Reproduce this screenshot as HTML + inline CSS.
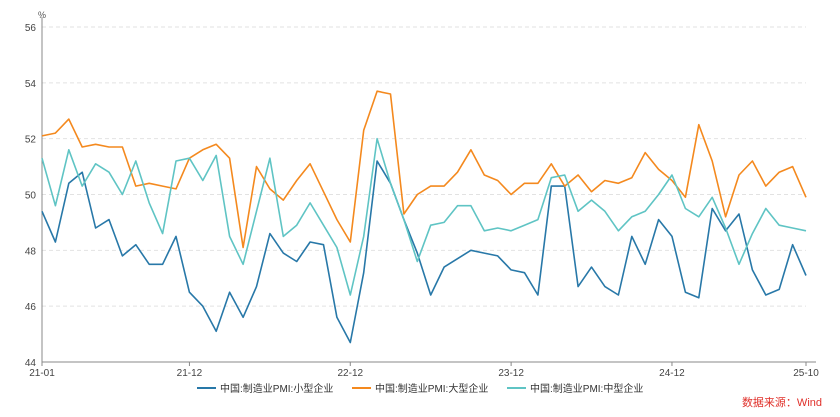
<!DOCTYPE html>
<html><head><meta charset="utf-8"><style>
body{margin:0;background:#fff;}
svg{display:block;font-family:"Liberation Sans","Noto Sans CJK SC",sans-serif;}
</style></head><body>
<svg id="chart" width="840" height="417">
<g id="grid"></g><g id="axes"></g><g id="series"></g>
<g font-size="10" fill="#333">
<line x1="197" y1="388" x2="216" y2="388" stroke="#2878a8" stroke-width="2"/><text x="220" y="392">中国:制造业PMI:小型企业</text>
<line x1="352" y1="388" x2="371" y2="388" stroke="#f4891e" stroke-width="2"/><text x="375" y="392">中国:制造业PMI:大型企业</text>
<line x1="507" y1="388" x2="526" y2="388" stroke="#5fc4c4" stroke-width="2"/><text x="530" y="392">中国:制造业PMI:中型企业</text>
</g>
<text x="822" y="406" text-anchor="end" font-size="11" fill="#e0302a">数据来源：Wind</text>
<text x="38" y="18" font-size="9" fill="#555">%</text>
</svg>
<script>
const small=[49.4,48.3,50.4,50.8,48.8,49.1,47.8,48.2,47.5,47.5,48.5,46.5,46.0,45.1,46.5,45.6,46.7,48.6,47.9,47.6,48.3,48.2,45.6,44.7,47.2,51.2,50.4,49.1,47.9,46.4,47.4,47.7,48.0,47.9,47.8,47.3,47.2,46.4,50.3,50.3,46.7,47.4,46.7,46.4,48.5,47.5,49.1,48.5,46.5,46.3,49.5,48.7,49.3,47.3,46.4,46.6,48.2,47.1];
const large=[52.1,52.2,52.7,51.7,51.8,51.7,51.7,50.3,50.4,50.3,50.2,51.3,51.6,51.8,51.3,48.1,51.0,50.2,49.8,50.5,51.1,50.1,49.1,48.3,52.3,53.7,53.6,49.3,50.0,50.3,50.3,50.8,51.6,50.7,50.5,50.0,50.4,50.4,51.1,50.3,50.7,50.1,50.5,50.4,50.6,51.5,50.9,50.5,49.9,52.5,51.2,49.2,50.7,51.2,50.3,50.8,51.0,49.9];
const medium=[51.3,49.6,51.6,50.3,51.1,50.8,50.0,51.2,49.7,48.6,51.2,51.3,50.5,51.4,48.5,47.5,49.4,51.3,48.5,48.9,49.7,48.9,48.1,46.4,48.5,52.0,50.4,49.1,47.6,48.9,49.0,49.6,49.6,48.7,48.8,48.7,48.9,49.1,50.6,50.7,49.4,49.8,49.4,48.7,49.2,49.4,50.0,50.7,49.5,49.2,49.9,48.8,47.5,48.6,49.5,48.9,48.8,48.7];
const yTicks=[44,46,48,50,52,54,56];
const xTickIdx=[0,11,23,35,47,57];
const xTickLabels=["21-01","21-12","22-12","23-12","24-12","25-10"];
const NS="http://www.w3.org/2000/svg";
const L=42,R=806,T=27,B=362;
const n=small.length;
const xs=i=>L+i*(R-L)/(n-1);
const ys=v=>B-(v-44)/(56-44)*(B-T);
function mk(tag,attrs,parent){const e=document.createElementNS(NS,tag);for(const k in attrs)e.setAttribute(k,attrs[k]);document.getElementById(parent).appendChild(e);return e;}
yTicks.forEach(v=>{
 const g=mk('line',{x1:L,x2:R,y1:ys(v),y2:ys(v),stroke:'#e2e2e2','stroke-dasharray':'4,3'},'grid');
 
 
 const t=mk('text',{x:L-6,y:ys(v)+4,'text-anchor':'end','font-size':'10',fill:'#444'},'axes');
 t.textContent=v;
 
 
});
const ax=mk('line',{x1:L,x2:L,y1:T-10,y2:B,stroke:'#888'},'axes');


const bx=mk('line',{x1:L,x2:R+10,y1:B,y2:B,stroke:'#888'},'axes');


xTickIdx.forEach((idx,k)=>{
 const tk=mk('line',{x1:xs(idx),x2:xs(idx),y1:B,y2:B+4,stroke:'#888'},'axes');
 
 
 const t=mk('text',{x:xs(idx),y:B+14,'text-anchor':'middle','font-size':'10',fill:'#444'},'axes');
 t.textContent=xTickLabels[k];
 
 
});
[[small,'#2878a8','series-small'],[large,'#f4891e','series-large'],[medium,'#5fc4c4','series-medium']].forEach(([d,c,name])=>{
 const p=mk('polyline',{points:d.map((v,i)=>xs(i).toFixed(1)+','+ys(v).toFixed(1)).join(' '),fill:'none',stroke:c,'stroke-width':'1.6','stroke-linejoin':'round'},'series');
 
 
});
</script>
</body></html>
